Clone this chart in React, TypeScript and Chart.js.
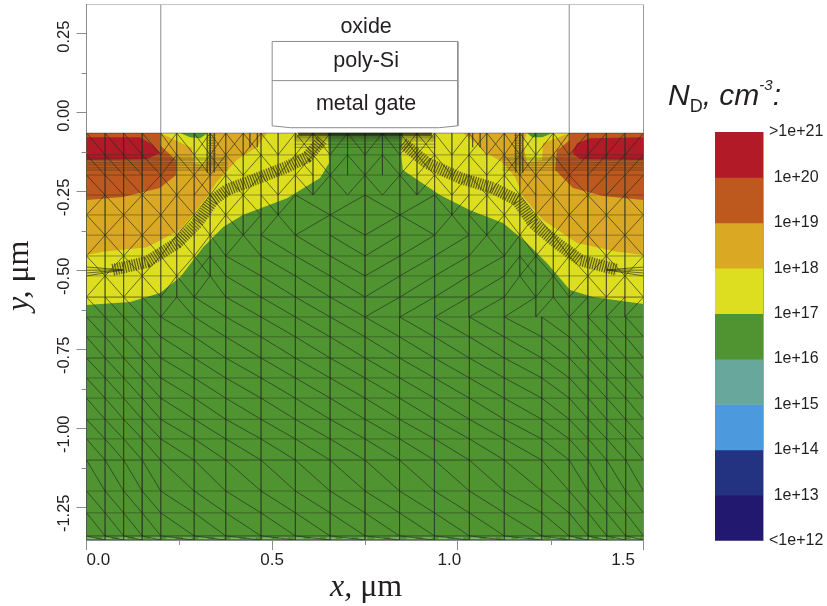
import React, { useEffect, useRef } from "react";
import { Chart, registerables } from "chart.js";

Chart.register(...registerables);

// ---------- axes ----------
const xTickValues = [0, 0.5, 1, 1.5];
const xTickLabels = ["0.0", "0.5", "1.0\u2003", "1.5\u2002"];
const xMinorTicks = [0.25, 0.75, 1.25];
const yTickValues = [0.25, 0, -0.25, -0.5, -0.75, -1, -1.25];
const yMinorTicks = [0.125, -0.125, -0.375, -0.625, -0.875, -1.125];
const xRange = [0, 1.5];
const yRange = [-1.353, 0.342];
const surfaceY = -0.065;

// ---------- doping contours: [x, y] in µm ----------
const siliconBase = [[0, -0.065], [1.5, -0.065], [1.5, -1.353], [0, -1.353]];
const yellowLeft = [[0, -0.065], [0.65, -0.065], [0.653, -0.16], [0.629, -0.207], [0.54, -0.271], [0.421, -0.324], [0.368, -0.362], [0.314, -0.426], [0.252, -0.521], [0.198, -0.571], [0.117, -0.6], [0, -0.609]];
const yellowRight = [[1.5, -0.065], [0.852, -0.065], [0.847, -0.128], [0.852, -0.182], [0.952, -0.261], [1.033, -0.309], [1.122, -0.35], [1.186, -0.413], [1.24, -0.476], [1.302, -0.562], [1.364, -0.584], [1.5, -0.606]];
const goldLeft = [[0, -0.065], [0.198, -0.065], [0.284, -0.112], [0.287, -0.16], [0.314, -0.166], [0.338, -0.141], [0.333, -0.065], [0.486, -0.065], [0.459, -0.109], [0.405, -0.15], [0.351, -0.22], [0.325, -0.267], [0.252, -0.372], [0.163, -0.426], [0.044, -0.441], [0, -0.451]];
const goldRight = [[1.5, -0.065], [1.302, -0.065], [1.229, -0.097], [1.227, -0.15], [1.186, -0.157], [1.176, -0.097], [1.186, -0.065], [1.014, -0.065], [1.079, -0.128], [1.122, -0.16], [1.154, -0.204], [1.176, -0.267], [1.229, -0.34], [1.321, -0.413], [1.429, -0.441], [1.5, -0.451]];
const orangeLeft = [[0, -0.065], [0.198, -0.065], [0.198, -0.103], [0.241, -0.15], [0.241, -0.198], [0.198, -0.239], [0.098, -0.267], [0, -0.277]];
const orangeRight = [[1.5, -0.065], [1.302, -0.065], [1.302, -0.087], [1.267, -0.119], [1.262, -0.182], [1.31, -0.239], [1.391, -0.264], [1.5, -0.277]];
const redLeft = [[0, -0.078], [0.144, -0.078], [0.179, -0.103], [0.198, -0.128], [0.163, -0.147], [0, -0.15]];
const redRight = [[1.5, -0.078], [1.356, -0.081], [1.321, -0.097], [1.308, -0.128], [1.329, -0.147], [1.5, -0.15]];
const greenPatchLeft = [[0.252, -0.065], [0.327, -0.065], [0.306, -0.081], [0.279, -0.078]];
const greenPatchRight = [[1.186, -0.065], [1.256, -0.065], [1.227, -0.078], [1.2, -0.078]];

// ---------- device outline ----------
const frameLine = [[0, 0.342], [1.5, 0.342], [1.5, -0.065]];
const gateOutline = [[0.5, -0.042], [0.5, 0.225], [1, 0.225], [1, -0.042], [0.95, -0.048], [0.55, -0.048], [0.5, -0.042]];
const polyMetalLine = [[0.5, 0.101], [1, 0.101]];
const spacerLeft = [[0.2, surfaceY], [0.2, 0.342]];
const spacerRight = [[1.3, surfaceY], [1.3, 0.342]];
const regionLabels = ["oxide", "poly-Si", "metal gate"];
const regionLabelX = [0.753, 0.753, 0.753];
const regionLabelY = [0.27, 0.163, 0.027];

// ---------- mesh ----------
const lowerCols = [0, 0.05, 0.1, 0.15, 0.2, 0.29, 0.375, 0.47, 0.5625, 0.656, 0.75, 0.843, 0.937, 1.031, 1.125, 1.226, 1.3, 1.351, 1.401, 1.452, 1.5];
const lowerRows = [-0.647, -0.71, -0.777, -0.84, -0.904, -0.971, -1.033, -1.1, -1.198, -1.267, -1.34, -1.353];
const upperCols = [0, 0.05, 0.1, 0.15, 0.2, 0.243, 0.29, 0.333, 0.375, 0.422, 0.47, 0.516, 0.5625, 0.61, 0.656, 0.703, 0.75];
const upperRows = [-0.065, -0.134, -0.198, -0.261, -0.324, -0.388, -0.454, -0.517, -0.584, -0.647];
const upperCellDiagonals = [
  "ddddxdxxxxduxxud",
  "ddddudxxduduxdud",
  "ddduduxududududu",
  "udududududduD.U.",
  "dududududuudU.D.",
  "udududududD.D.D.",
  "dududuxdD.D.D.D.",
  "ududududD.D.D.D.",
  "ddddudD.D.D.D.D.",
];
const secondaryColumns = [0.243, 0.333, 0.422, 0.516, 0.61, 0.703];
const secondaryColumnEnds = [-0.584, -0.517, -0.388, -0.324, -0.261, -0.198];
const primaryUpperCols = [0, 0.05, 0.1, 0.15, 0.2, 0.29, 0.375, 0.47, 0.5625, 0.656, 0.75];
const heavyRows = [-0.584, -0.777, -1.1, -1.34];
const heavyCols = [0.15, 0.75, 1.351];
const sourceBundleRows = [-0.144, -0.15, -0.159, -0.166, -0.175, -0.182];
const sourceBundleCols = [0.325, 0.333, 0.344, 0.44, 0.46];
const channelRows = [-0.074, -0.077, -0.08, -0.084, -0.09, -0.1, -0.11];
const channelEdge = [[0.57, -0.069], [0.93, -0.069]];
const fanRows = [-0.489, -0.499, -0.508, -0.517];
const junctionLeft = [[0.071, -0.498], [0.163, -0.473], [0.244, -0.413], [0.298, -0.35], [0.341, -0.277], [0.378, -0.245], [0.448, -0.214], [0.54, -0.172], [0.594, -0.141], [0.634, -0.087]];
const junctionRight = [[0.852, -0.097], [0.917, -0.16], [1.006, -0.207], [1.095, -0.239], [1.159, -0.277], [1.203, -0.35], [1.267, -0.413], [1.329, -0.467], [1.429, -0.498]];
const sourceHatchLeft = [[0.338, -0.07], [0.338, -0.17]];
const sourceHatchRight = [[1.162, -0.07], [1.162, -0.17]];
const bottomSeam = [[0, -1.347], [1.5, -1.347]];

// ---------- colour scale ----------
const colorbarEdges = [21, 20, 19, 18, 17, 16, 15, 14, 13, 12];
const colorbarLabels = [">1e+21", "1e+20", "1e+19", "1e+18", "1e+17", "1e+16", "1e+15", "1e+14", "1e+13", "<1e+12"];
const colorbarColors = ["#b21a28", "#bd581e", "#dba823", "#dede20", "#4f9430", "#68a89c", "#4d99de", "#243282", "#231870"];

const SANS = "'Liberation Sans', Arial, sans-serif";
const SERIF = "'Liberation Serif', 'Times New Roman', serif";
const TEXT = "#231f20";
const GREY = "#8c8c8c";

type P = { x: number | null; y: number | null };
const pts = (a: number[][]): P[] => a.map(([x, y]) => ({ x, y }));

function buildMesh() {
  const aligned: P[] = [];
  const diagonals: P[] = [];
  const seen = new Set<string>();
  const push = (out: P[], x1: number, y1: number, x2: number, y2: number) => {
    const key = [x1, y1, x2, y2].map((v) => v.toFixed(4)).join();
    if (seen.has(key)) return;
    seen.add(key);
    out.push({ x: x1, y: y1 }, { x: x2, y: y2 }, { x: null, y: null });
  };
  const line = (x1: number, y1: number, x2: number, y2: number) => push(aligned, x1, y1, x2, y2);
  const diag = (x1: number, y1: number, x2: number, y2: number) => push(diagonals, x1, y1, x2, y2);
  const [x0, x1] = xRange;
  for (const r of lowerRows) line(x0, r, x1, r);
  const bottom = lowerRows[lowerRows.length - 1];
  for (const c of lowerCols) line(c, lowerRows[0], c, bottom);
  for (let i = 0; i < lowerRows.length - 1; i++)
    for (let j = 0; j < lowerCols.length - 1; j++)
      diag(lowerCols[j], lowerRows[i], lowerCols[j + 1], lowerRows[i + 1]);
  for (const r of upperRows) line(x0, r, x1, r);
  const sides = [(x: number) => x, (x: number) => x1 - x];
  for (const m of sides) {
    for (const c of primaryUpperCols) line(m(c), surfaceY, m(c), lowerRows[0]);
    secondaryColumns.forEach((c, i) => line(m(c), surfaceY, m(c), secondaryColumnEnds[i]));
    upperCellDiagonals.forEach((row, i) => {
      const t = upperRows[i], b = upperRows[i + 1];
      [...row].forEach((ch, j) => {
        const a = upperCols[j], n = upperCols[j + 1], f = upperCols[j + 2];
        if (ch === "d" || ch === "x") diag(m(a), t, m(n), b);
        if (ch === "u" || ch === "x") diag(m(a), b, m(n), t);
        if (ch === "D") diag(m(a), t, m(f), b);
        if (ch === "U") diag(m(a), b, m(f), t);
      });
    });
    for (const r of sourceBundleRows) line(m(0), r, m(0.38), r);
    for (const c of sourceBundleCols) line(m(c), surfaceY, m(c), c > 0.4 ? -0.11 : -0.19);
    for (const r of fanRows) diag(m(0), r, m(0.1), -0.498);
  }
  for (const r of channelRows) line(0.56, r, 0.94, r);
  const heavy: P[] = [];
  for (const r of heavyRows) heavy.push({ x: x0, y: r }, { x: x1, y: r }, { x: null, y: null });
  for (const c of heavyCols) heavy.push({ x: c, y: surfaceY }, { x: c, y: bottom }, { x: null, y: null });
  return { aligned, diagonals, heavy };
}

const region = (data: number[][], color: string) => ({
  data: pts(data), showLine: true, fill: "shape", backgroundColor: color,
  borderWidth: 0, pointRadius: 0, tension: 0,
});
const stroke = (data: P[], color: string, width: number, dash: number[] = []) => ({
  data, showLine: true, fill: false, borderColor: color, borderWidth: width,
  borderDash: dash, pointRadius: 0, tension: 0,
});

const drawParts = (ctx: CanvasRenderingContext2D, parts: { t: string; font: string; dy?: number }[]) => {
  let x = 0;
  for (const p of parts) {
    ctx.font = p.font;
    ctx.fillText(p.t, x, p.dy || 0);
    x += ctx.measureText(p.t).width;
  }
};

const decorations = {
  id: "decorations",
  afterDraw(chart: any) {
    const { ctx, scales } = chart;
    const { x, y } = scales;
    ctx.save();
    ctx.strokeStyle = GREY;
    ctx.lineWidth = 1;
    ctx.beginPath();
    for (const v of xMinorTicks) {
      const p = Math.round(x.getPixelForValue(v)) + 0.5;
      ctx.moveTo(p, y.bottom);
      ctx.lineTo(p, y.bottom + 5);
    }
    for (const v of yMinorTicks) {
      const p = Math.round(y.getPixelForValue(v)) + 0.5;
      ctx.moveTo(x.left, p);
      ctx.lineTo(x.left - 5, p);
    }
    ctx.stroke();

    ctx.fillStyle = TEXT;
    ctx.textBaseline = "middle";
    ctx.textAlign = "center";
    ctx.font = `21.5px ${SANS}`;
    regionLabels.forEach((t, i) =>
      ctx.fillText(t, x.getPixelForValue(regionLabelX[i]), y.getPixelForValue(regionLabelY[i])));

    ctx.textBaseline = "alphabetic";
    ctx.textAlign = "left";
    const italicSerif = `italic 32px ${SERIF}`;
    const serif = `32px ${SERIF}`;
    ctx.save();
    ctx.translate(330, 596);
    drawParts(ctx, [{ t: "x, ", font: italicSerif }, { t: "μm", font: serif }]);
    ctx.restore();
    ctx.save();
    ctx.translate(28, 311);
    ctx.rotate(-Math.PI / 2);
    drawParts(ctx, [{ t: "y, ", font: italicSerif }, { t: "μm", font: serif }]);
    ctx.restore();
    ctx.save();
    ctx.translate(668, 105);
    const it = `italic 30px ${SANS}`;
    drawParts(ctx, [
      { t: "N", font: it },
      { t: "D", font: `18px ${SANS}`, dy: 6.5 },
      { t: ", cm", font: it },
      { t: "-3", font: `italic 15px ${SANS}`, dy: -15 },
      { t: ":", font: it },
    ]);
    ctx.restore();
    ctx.restore();
  },
};

const noMargins = (s: any) => {
  s.paddingTop = 0;
  s.paddingBottom = 0;
  s.paddingLeft = 0;
  s.paddingRight = 0;
};

export default function App() {
  const mainRef = useRef<HTMLCanvasElement>(null);
  const barRef = useRef<HTMLCanvasElement>(null);

  useEffect(() => {
    const mesh = buildMesh();
    const main = new Chart(mainRef.current!, {
      type: "scatter",
      data: {
        datasets: [
          stroke(pts(frameLine), GREY, 1),
          stroke(pts(gateOutline), GREY, 1),
          stroke(pts(polyMetalLine), GREY, 1),
          stroke(pts(spacerLeft), GREY, 1),
          stroke(pts(spacerRight), GREY, 1),
          stroke(pts(channelEdge), "rgba(15,15,10,0.7)", 3),
          stroke(pts(junctionLeft), "rgba(45,45,20,0.72)", 12, [1, 1.5]),
          stroke(pts(junctionRight), "rgba(45,45,20,0.72)", 12, [1, 1.5]),
          stroke(pts(junctionLeft), "rgba(90,90,20,0.18)", 11),
          stroke(pts(junctionRight), "rgba(90,90,20,0.18)", 11),
          stroke(pts(sourceHatchLeft), "rgba(70,70,30,0.45)", 8, [1.2, 1.4]),
          stroke(pts(sourceHatchRight), "rgba(70,70,30,0.45)", 8, [1.2, 1.4]),
          stroke(mesh.diagonals, "rgba(36,44,32,0.72)", 0.9),
          stroke(mesh.aligned, "rgba(40,48,36,0.44)", 1),
          stroke(mesh.heavy, "rgba(40,60,30,0.25)", 1.2),
          stroke(pts(bottomSeam), "rgba(190,225,170,0.7)", 1, [9, 7]),
          region(redLeft, colorbarColors[0]),
          region(redRight, colorbarColors[0]),
          region(orangeLeft, colorbarColors[1]),
          region(orangeRight, colorbarColors[1]),
          region(greenPatchLeft, colorbarColors[4]),
          region(greenPatchRight, colorbarColors[4]),
          region(goldLeft, colorbarColors[2]),
          region(goldRight, colorbarColors[2]),
          region(yellowLeft, colorbarColors[3]),
          region(yellowRight, colorbarColors[3]),
          region(siliconBase, colorbarColors[4]),
        ] as any,
      },
      options: {
        animation: false,
        responsive: false,
        events: [],
        layout: { padding: { top: 4.5, left: 0, right: 183.5, bottom: 0 } },
        plugins: { legend: { display: false }, tooltip: { enabled: false }, title: { display: false } },
        scales: {
          x: {
            type: "linear",
            min: xRange[0],
            max: xRange[1],
            afterBuildTicks: (s: any) => { s.ticks = xTickValues.map((value) => ({ value })); },
            afterFit: (s: any) => { s.height = 66; noMargins(s); },
            grid: { display: true, drawOnChartArea: false, tickLength: 10, color: GREY },
            border: { display: true, color: GREY },
            ticks: {
              align: "inner",
              autoSkip: false,
              maxRotation: 0,
              padding: 0,
              color: TEXT,
              font: { family: SANS, size: 17 },
              callback: (v: any) => xTickLabels[xTickValues.indexOf(Number(v))],
            },
          },
          y: {
            type: "linear",
            min: yRange[0],
            max: yRange[1],
            afterBuildTicks: (s: any) => { s.ticks = yTickValues.map((value) => ({ value })); },
            afterFit: (s: any) => { s.width = 86.5; noMargins(s); },
            grid: { display: true, drawOnChartArea: false, tickLength: 10, color: GREY },
            border: { display: true, color: GREY },
            ticks: {
              autoSkip: false,
              minRotation: 90,
              maxRotation: 90,
              padding: 12.5,
              labelOffset: -13,
              color: TEXT,
              font: { family: SANS, size: 16.5 },
              callback: (v: any) => Number(v).toFixed(2),
            },
          },
        },
      } as any,
      plugins: [decorations],
    });

    const bar = new Chart(barRef.current!, {
      type: "bar",
      data: {
        labels: ["N_D"],
        datasets: colorbarColors.map((c, i) => ({
          data: [[colorbarEdges[i + 1], colorbarEdges[i]]],
          backgroundColor: c,
          borderWidth: 0,
          barPercentage: 1,
          categoryPercentage: 1,
          grouped: false,
        })) as any,
      },
      options: {
        animation: false,
        responsive: false,
        events: [],
        layout: { padding: { top: 132, left: 65, right: 0, bottom: 65.3 } },
        plugins: { legend: { display: false }, tooltip: { enabled: false } },
        scales: {
          x: { display: false },
          y: {
            position: "right",
            min: 12,
            max: 21,
            afterBuildTicks: (s: any) => { s.ticks = colorbarEdges.map((value) => ({ value })); },
            afterFit: (s: any) => { s.width = 64; noMargins(s); },
            grid: { display: false, drawTicks: false },
            border: { display: true, color: "#a4a4b4" },
            ticks: {
              crossAlign: "center",
              autoSkip: false,
              padding: 6,
              color: TEXT,
              font: { family: SANS, size: 16 },
              callback: (v: any) => colorbarLabels[colorbarEdges.indexOf(Number(v))],
            },
          },
        },
      } as any,
    });

    return () => {
      main.destroy();
      bar.destroy();
    };
  }, []);

  return (
    <div style={{ position: "fixed", left: 0, top: 0, width: 827, height: 606, background: "#fff", overflow: "hidden" }}>
      <canvas ref={mainRef} width={827} height={606} style={{ position: "absolute", left: 0, top: 0 }} />
      <canvas ref={barRef} width={177} height={606} style={{ position: "absolute", left: 650, top: 0 }} />
    </div>
  );
}
